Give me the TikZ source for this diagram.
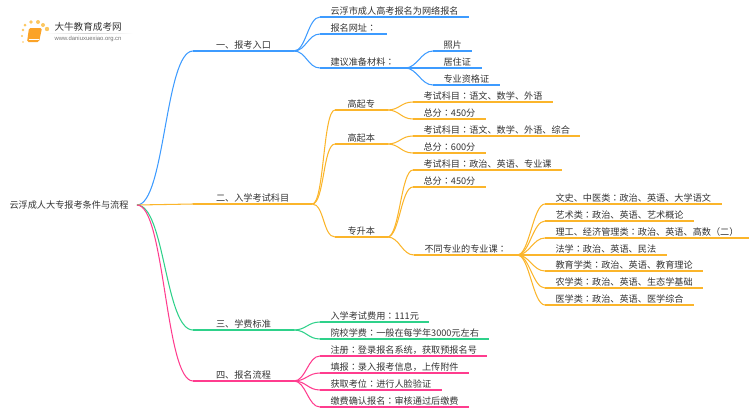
\documentclass[tikz,border=0pt]{standalone}
\usepackage{fontspec}
\setmainfont{Noto Sans CJK SC}
\newfontfamily\tcfont{Noto Sans CJK TC}
\newfontfamily\urlfont{Liberation Sans}
\newcommand{\cln}{{\tcfont ：}}
\definecolor{armblue}{HTML}{3D9BFF}
\definecolor{armorange}{HTML}{FBB52B}
\definecolor{armgreen}{HTML}{2ED18A}
\definecolor{armpink}{HTML}{FF3C8E}
\definecolor{inktext}{HTML}{333333}
\begin{document}
\begin{tikzpicture}[x=1pt, y=-1pt, line width=1.05pt]

    \useasboundingbox (0,0) rectangle (750,410);

    \tikzstyle{txt} = [font=\fontsize{9.15}{11}\selectfont, text=inktext, inner ysep=0.2pt,
                       text height=8pt, text depth=2pt, anchor=south west]
    \tikzstyle{topic} = [txt, inner xsep=22.5pt]
    \tikzstyle{leaf} = [txt, inner xsep=10pt]
    \tikzstyle{mid} = [txt, inner xsep=12pt]
    \tikzstyle{arm} = [out=0, in=180, distance=12pt]
    \tikzstyle{rootarm} = [out=0, in=180, distance=28pt]

    % Logo
    \foreach \dx/\dy/\dr in {23/42/0.9, 22/36/1.1, 23/30/1.3, 25/25/1.5, 31/22/1.9, 38/22/2, 43/25/2, 47/29/2.2}
        \fill[armorange!75] (\dx,\dy) circle (\dr);
    \fill[armorange!90!red, rounded corners=1.5pt] (29,28) -- (42,28) -- (39,42) -- (27,42) -- cycle;
    \draw[white, line width=0.5pt] (28.5,39.5) -- (39,39.5);
    \fill[left color=white, right color=white, middle color=black!18] (45,33) rectangle (133,33.7);
    \node[font=\fontsize{9.6}{11}\selectfont, text=inktext, inner sep=0pt, anchor=west] (logotitle) at (54,27) {大牛教育成考网};
    \node[font=\urlfont\fontsize{5.9}{7}\selectfont, text=black!55, inner sep=0pt, anchor=west] (logourl) at (54,39) {www.daniuxuexiao.org.cn};

    % Nodes
    \node[txt, inner xsep=8pt, anchor=east] (root) at (137,205) {云浮成人大专报考条件与流程};

    \node[topic] (entry) at (193,51) {一、报考入口};
    \node[topic] (subjects) at (193,204) {二、入学考试科目};
    \node[topic] (fees) at (193,330) {三、学费标准};
    \node[topic] (process) at (193,381) {四、报名流程};

    \node[leaf] (online) at (320,17) {云浮市成人高考报名为网络报名};
    \node[leaf] (website) at (320,34) {报名网址\cln};
    \node[leaf] (material) at (320,68) {建议准备材料\cln};
    \node[leaf] (photo) at (433,51) {照片};
    \node[leaf] (idcard) at (433,68) {居住证};
    \node[leaf] (cert) at (433,85) {专业资格证};

    \node[mid] (gqz) at (335,110) {高起专};
    \node[mid] (gqb) at (335,144) {高起本};
    \node[mid] (zsb) at (335,237) {专升本};

    \node[leaf] (gqzsub) at (413,102) {考试科目\cln 语文、数学、外语};
    \node[leaf] (gqzscore) at (413,119) {总分\cln 450分};
    \node[leaf] (gqbsub) at (413,136) {考试科目\cln 语文、数学、外语、综合};
    \node[leaf] (gqbscore) at (413,153) {总分\cln 600分};
    \node[leaf] (zsbsub) at (413,170) {考试科目\cln 政治、英语、专业课};
    \node[leaf] (zsbscore) at (413,187) {总分\cln 450分};
    \node[leaf] (major) at (414,255) {不同专业的专业课\cln};

    \node[leaf] (wenshi) at (545,204) {文史、中医类\cln 政治、英语、大学语文};
    \node[leaf] (art) at (545,221) {艺术类\cln 政治、英语、艺术概论};
    \node[leaf] (science) at (545,238) {理工、经济管理类\cln 政治、英语、高数（二）};
    \node[leaf] (law) at (545,255) {法学\cln 政治、英语、民法};
    \node[leaf] (edu) at (545,271) {教育学类\cln 政治、英语、教育理论};
    \node[leaf] (agri) at (545,288) {农学类\cln 政治、英语、生态学基础};
    \node[leaf] (med) at (545,305) {医学类\cln 政治、英语、医学综合};

    \node[leaf] (examfee) at (320,322) {入学考试费用\cln 111元};
    \node[leaf] (tuition) at (320,339) {院校学费\cln 一般在每学年3000元左右};

    \node[leaf] (register) at (320,356) {注册\cln 登录报名系统，获取预报名号};
    \node[leaf] (fill) at (320,373) {填报\cln 录入报考信息，上传附件};
    \node[leaf] (seat) at (320,390) {获取考位\cln 进行人脸验证};
    \node[leaf] (confirm) at (320,407) {缴费确认报名\cln 审核通过后缴费};

    % Underlines
    \foreach \n in {entry, online, website, material, photo, idcard, cert}
        \draw[armblue] (\n.south west) -- (\n.south east);
    \foreach \n in {subjects, gqz, gqb, zsb, gqzsub, gqzscore, gqbsub, gqbscore, zsbsub, zsbscore, major,
                    wenshi, art, science, law, edu, agri, med}
        \draw[armorange] (\n.south west) -- (\n.south east);
    \foreach \n in {fees, examfee, tuition}
        \draw[armgreen] (\n.south west) -- (\n.south east);
    \foreach \n in {process, register, fill, seat, confirm}
        \draw[armpink] (\n.south west) -- (\n.south east);

    % Arrows
    \draw[armblue] (root.east) to[rootarm] (entry.south west);
    \draw[armorange] (root.east) to[rootarm] (subjects.south west);
    \draw[armgreen] (root.east) to[rootarm] (fees.south west);
    \draw[armpink] (root.east) to[rootarm] (process.south west);

    \foreach \a/\b in {entry/online, entry/website, entry/material, material/photo, material/idcard, material/cert}
        \draw[armblue] (\a.south east) to[arm] (\b.south west);
    \foreach \a/\b in {subjects/gqz, subjects/gqb, subjects/zsb, gqz/gqzsub, gqz/gqzscore, gqb/gqbsub, gqb/gqbscore,
                       zsb/zsbsub, zsb/zsbscore, zsb/major, major/wenshi, major/art, major/science, major/law,
                       major/edu, major/agri, major/med}
        \draw[armorange] (\a.south east) to[arm] (\b.south west);
    \foreach \a/\b in {fees/examfee, fees/tuition}
        \draw[armgreen] (\a.south east) to[arm] (\b.south west);
    \foreach \a/\b in {process/register, process/fill, process/seat, process/confirm}
        \draw[armpink] (\a.south east) to[arm] (\b.south west);

\end{tikzpicture}
\end{document}
